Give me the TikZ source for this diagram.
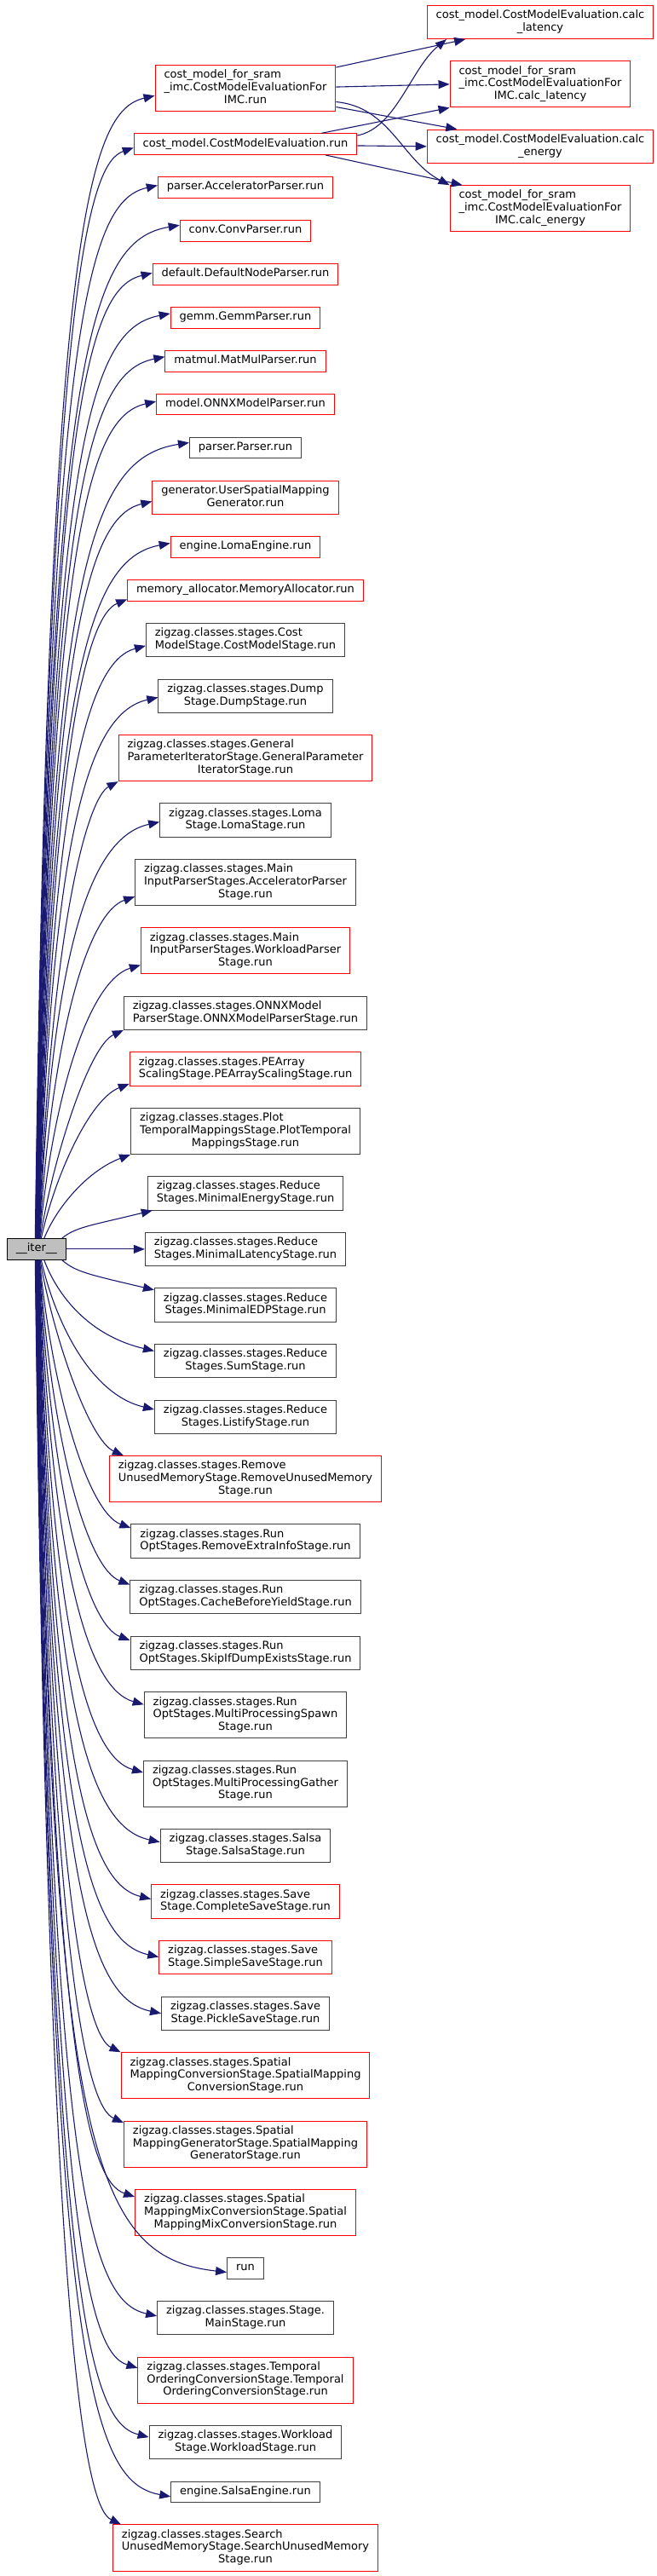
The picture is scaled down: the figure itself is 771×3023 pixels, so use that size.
\documentclass[tikz,border=0pt]{standalone}
\usepackage{fontspec}
\setmainfont{DejaVu Sans}
\usepackage{tikz}
\usetikzlibrary{arrows.meta,calc,positioning}
\definecolor{edgeCol}{HTML}{191970}
\definecolor{fnEdge}{HTML}{404040}
\definecolor{fnTrunc}{HTML}{FF0000}
\definecolor{rootCol}{HTML}{BFBFBF}
\newcommand{\fnfont}{\fontsize{13pt}{14.7pt}\selectfont}
\newcommand{\lone}[1]{\begin{tabular}{@{}c@{}}#1\end{tabular}}
\newcommand{\ltwo}[2]{\begin{tabular}{@{}l@{}}#1\\\multicolumn{1}{@{}c@{}}{#2}\end{tabular}}
\newcommand{\lthree}[3]{\begin{tabular}{@{}l@{}}#1\\#2\\\multicolumn{1}{@{}c@{}}{#3}\end{tabular}}
\tikzset{
  fn/.style={draw=fnEdge, fill=white, line width=1pt, inner xsep=10.5pt, inner ysep=5pt, font=\fnfont},
  fntrunc/.style={fn, draw=fnTrunc},
  fnroot/.style={fn, draw=black, fill=rootCol},
  call/.style={-{Triangle[length=13pt,width=10pt]}, draw=edgeCol, line width=1.1pt},
}
% call from __iter__ to a function drawn above / below it
\newcommand{\callup}[2]{%
  \draw[call] let \p1=([xshift=#1]iter.north), \p2=(#2), \n1={min(150pt,0.6*(\y2-\y1))} in
    (\p1) .. controls ({\x1+16pt},{\y2-\n1*1pt}) and (105pt,{\y2-18pt}) .. (\p2);}
\newcommand{\calldown}[2]{%
  \draw[call] let \p1=([xshift=#1]iter.south), \p2=(#2), \n1={min(150pt,0.6*(\y1-\y2))} in
    (\p1) .. controls ({\x1+16pt},{\y2+\n1*1pt}) and (105pt,{\y2+18pt}) .. (\p2);}

\begin{document}
\begin{tikzpicture}[node distance=25.2pt]
  \path[fill=white, use as bounding box] (0,0) rectangle (771pt,-3023pt);
  % callees of __iter__
  \node[fntrunc, anchor=north] (imcRun) at (288pt,-76pt) {\lthree{cost\_model\_for\_sram}{\_imc.CostModelEvaluationFor}{IMC.run}};
  \node[fntrunc, below=of imcRun] (cmeRun) {\lone{cost\_model.CostModelEvaluation.run}};
  \node[fntrunc, below=of cmeRun] (accParser) {\lone{parser.AcceleratorParser.run}};
  \node[fntrunc, below=of accParser] (convParser) {\lone{conv.ConvParser.run}};
  \node[fntrunc, below=of convParser] (defaultParser) {\lone{default.DefaultNodeParser.run}};
  \node[fntrunc, below=of defaultParser] (gemmParser) {\lone{gemm.GemmParser.run}};
  \node[fntrunc, below=of gemmParser] (matmulParser) {\lone{matmul.MatMulParser.run}};
  \node[fntrunc, below=of matmulParser] (onnxParser) {\lone{model.ONNXModelParser.run}};
  \node[fn, below=of onnxParser] (baseParser) {\lone{parser.Parser.run}};
  \node[fntrunc, below=of baseParser] (userGen) {\ltwo{generator.UserSpatialMapping}{Generator.run}};
  \node[fntrunc, below=of userGen] (lomaEngine) {\lone{engine.LomaEngine.run}};
  \node[fntrunc, below=of lomaEngine] (memAlloc) {\lone{memory\_allocator.MemoryAllocator.run}};
  \node[fn, below=of memAlloc] (costStage) {\ltwo{zigzag.classes.stages.Cost}{ModelStage.CostModelStage.run}};
  \node[fn, below=of costStage] (dumpStage) {\ltwo{zigzag.classes.stages.Dump}{Stage.DumpStage.run}};
  \node[fntrunc, below=of dumpStage] (genParam) {\lthree{zigzag.classes.stages.General}{ParameterIteratorStage.GeneralParameter}{IteratorStage.run}};
  \node[fn, below=of genParam] (lomaStage) {\ltwo{zigzag.classes.stages.Loma}{Stage.LomaStage.run}};
  \node[fn, below=of lomaStage] (mainAcc) {\lthree{zigzag.classes.stages.Main}{InputParserStages.AcceleratorParser}{Stage.run}};
  \node[fntrunc, below=of mainAcc] (mainWl) {\lthree{zigzag.classes.stages.Main}{InputParserStages.WorkloadParser}{Stage.run}};
  \node[fn, below=of mainWl] (onnxStage) {\ltwo{zigzag.classes.stages.ONNXModel}{ParserStage.ONNXModelParserStage.run}};
  \node[fntrunc, below=of onnxStage] (peArray) {\ltwo{zigzag.classes.stages.PEArray}{ScalingStage.PEArrayScalingStage.run}};
  \node[fn, below=of peArray] (plotStage) {\lthree{zigzag.classes.stages.Plot}{TemporalMappingsStage.PlotTemporal}{MappingsStage.run}};
  \node[fn, below=of plotStage] (minEnergy) {\ltwo{zigzag.classes.stages.Reduce}{Stages.MinimalEnergyStage.run}};
  \node[fn, below=of minEnergy] (minLat) {\ltwo{zigzag.classes.stages.Reduce}{Stages.MinimalLatencyStage.run}};
  \node[fn, below=of minLat] (minEdp) {\ltwo{zigzag.classes.stages.Reduce}{Stages.MinimalEDPStage.run}};
  \node[fn, below=of minEdp] (sumStage) {\ltwo{zigzag.classes.stages.Reduce}{Stages.SumStage.run}};
  \node[fn, below=of sumStage] (listify) {\ltwo{zigzag.classes.stages.Reduce}{Stages.ListifyStage.run}};
  \node[fntrunc, below=of listify] (rmUnused) {\lthree{zigzag.classes.stages.Remove}{UnusedMemoryStage.RemoveUnusedMemory}{Stage.run}};
  \node[fn, below=of rmUnused] (rmExtra) {\ltwo{zigzag.classes.stages.Run}{OptStages.RemoveExtraInfoStage.run}};
  \node[fn, below=of rmExtra] (cacheYield) {\ltwo{zigzag.classes.stages.Run}{OptStages.CacheBeforeYieldStage.run}};
  \node[fn, below=of cacheYield] (skipDump) {\ltwo{zigzag.classes.stages.Run}{OptStages.SkipIfDumpExistsStage.run}};
  \node[fn, below=of skipDump] (mpSpawn) {\lthree{zigzag.classes.stages.Run}{OptStages.MultiProcessingSpawn}{Stage.run}};
  \node[fn, below=of mpSpawn] (mpGather) {\lthree{zigzag.classes.stages.Run}{OptStages.MultiProcessingGather}{Stage.run}};
  \node[fn, below=of mpGather] (salsaStage) {\ltwo{zigzag.classes.stages.Salsa}{Stage.SalsaStage.run}};
  \node[fntrunc, below=of salsaStage] (completeSave) {\ltwo{zigzag.classes.stages.Save}{Stage.CompleteSaveStage.run}};
  \node[fntrunc, below=of completeSave] (simpleSave) {\ltwo{zigzag.classes.stages.Save}{Stage.SimpleSaveStage.run}};
  \node[fn, below=of simpleSave] (pickleSave) {\ltwo{zigzag.classes.stages.Save}{Stage.PickleSaveStage.run}};
  \node[fntrunc, below=of pickleSave] (spConv) {\lthree{zigzag.classes.stages.Spatial}{MappingConversionStage.SpatialMapping}{ConversionStage.run}};
  \node[fntrunc, below=of spConv] (spGen) {\lthree{zigzag.classes.stages.Spatial}{MappingGeneratorStage.SpatialMapping}{GeneratorStage.run}};
  \node[fntrunc, below=of spGen] (spMix) {\lthree{zigzag.classes.stages.Spatial}{MappingMixConversionStage.Spatial}{MappingMixConversionStage.run}};
  \node[fn, below=of spMix] (runFn) {\lone{run}};
  \node[fn, below=of runFn] (mainStage) {\ltwo{zigzag.classes.stages.Stage.}{MainStage.run}};
  \node[fntrunc, below=of mainStage] (tempOrder) {\lthree{zigzag.classes.stages.Temporal}{OrderingConversionStage.Temporal}{OrderingConversionStage.run}};
  \node[fn, below=of tempOrder] (workloadStage) {\ltwo{zigzag.classes.stages.Workload}{Stage.WorkloadStage.run}};
  \node[fn, below=of workloadStage] (salsaEngine) {\lone{engine.SalsaEngine.run}};
  \node[fntrunc, below=of salsaEngine] (searchUnused) {\lthree{zigzag.classes.stages.Search}{UnusedMemoryStage.SearchUnusedMemory}{Stage.run}};
  % second level callees
  \node[fntrunc, anchor=north] (cmeLat) at (634pt,-5.7pt) {\ltwo{cost\_model.CostModelEvaluation.calc}{\_latency}};
  \node[fntrunc, below=of cmeLat] (imcLat) {\lthree{cost\_model\_for\_sram}{\_imc.CostModelEvaluationFor}{IMC.calc\_latency}};
  \node[fntrunc, below=of imcLat] (cmeEn) {\ltwo{cost\_model.CostModelEvaluation.calc}{\_energy}};
  \node[fntrunc, below=of cmeEn] (imcEn) {\lthree{cost\_model\_for\_sram}{\_imc.CostModelEvaluationFor}{IMC.calc\_energy}};
  % root
  \node[fnroot, left=92pt of minLat] (iter) {\lone{\_\_iter\_\_}};
  % edges
  \callup{-1.5pt}{[yshift=-8.7pt]imcRun.west}
  \callup{-1.2pt}{[yshift=-4.2pt]cmeRun.west}
  \callup{-0.9pt}{[yshift=2.5pt]accParser.west}
  \callup{-0.6pt}{[yshift=6.7pt]convParser.west}
  \callup{-0.3pt}{[yshift=1.5pt]defaultParser.west}
  \callup{0pt}{[yshift=4.8pt]gemmParser.west}
  \callup{0.3pt}{[yshift=5pt]matmulParser.west}
  \callup{0.6pt}{[yshift=3.5pt]onnxParser.west}
  \callup{0.9pt}{[yshift=6pt]baseParser.west}
  \callup{1.2pt}{[yshift=-4.7pt]userGen.west}
  \callup{1.5pt}{[yshift=4.5pt]lomaEngine.west}
  \callup{1.8pt}{[yshift=-10.5pt]memAlloc.west}
  \callup{2.1pt}{[yshift=-6.7pt]costStage.west}
  \callup{2.4pt}{[yshift=-1.7pt]dumpStage.west}
  \callup{2.7pt}{genParam.south west}
  \callup{3pt}{[yshift=-2pt]lomaStage.west}
  \callup{3.3pt}{[yshift=-16.7pt]mainAcc.west}
  \callup{3.6pt}{[yshift=-16.7pt]mainWl.west}
  \callup{4.2pt}{onnxStage.south west}
  \callup{5.5pt}{[yshift=-17.5pt]peArray.west}
  \callup{9pt}{plotStage.south west}
  \callup{30pt}{[xshift=6pt]minEnergy.south west}
  \draw[call] (iter) -- (minLat);
  \calldown{30pt}{[yshift=17.7pt]minEdp.west}
  \calldown{9pt}{[yshift=11.7pt]sumStage.west}
  \calldown{5.5pt}{[yshift=8.7pt]listify.west}
  \calldown{4.2pt}{[xshift=17pt]rmUnused.north west}
  \calldown{3.6pt}{[yshift=15.5pt]rmExtra.west}
  \calldown{3.3pt}{[yshift=14.7pt]cacheYield.west}
  \calldown{3pt}{[yshift=14.8pt]skipDump.west}
  \calldown{2.7pt}{[yshift=12.5pt]mpSpawn.west}
  \calldown{2.4pt}{[yshift=13pt]mpGather.west}
  \calldown{2.1pt}{[yshift=4.3pt]salsaStage.west}
  \calldown{1.8pt}{[yshift=3pt]completeSave.west}
  \calldown{1.5pt}{[yshift=0.7pt]simpleSave.west}
  \calldown{1.2pt}{pickleSave.west}
  \calldown{0.9pt}{spConv.north west}
  \calldown{0.6pt}{[yshift=25pt]spGen.west}
  \calldown{0.3pt}{[yshift=18.3pt]spMix.west}
  \calldown{0pt}{[yshift=-4.5pt]runFn.west}
  \calldown{-0.3pt}{[yshift=2.3pt]mainStage.west}
  \calldown{-0.6pt}{[yshift=14.2pt]tempOrder.west}
  \calldown{-0.9pt}{[yshift=6pt]workloadStage.west}
  \calldown{-1.2pt}{[yshift=-5.5pt]salsaEngine.west}
  \calldown{-1.5pt}{[xshift=10pt]searchUnused.north west}
  \draw[call] ([yshift=-3pt]imcRun.north east) -- ([xshift=45.4pt]cmeLat.south west);
  \draw[call] ([yshift=1.5pt]imcRun.east) -- (imcLat.west);
  \draw[call] ([yshift=-22pt]imcRun.east) -- ([xshift=35.6pt]cmeEn.north west);
  \draw[call] ([yshift=-16pt]imcRun.east) .. controls +(64pt,-6pt) and +(-56pt,29pt) .. (imcEn.north west);
  \draw[call] ([yshift=10.2pt]cmeRun.east) .. controls +(45pt,8pt) and +(-41.5pt,-34pt) .. ([xshift=23.2pt]cmeLat.south west);
  \draw[call] ([xshift=-42pt]cmeRun.north east) -- (imcLat.south west);
  \draw[call] ([yshift=-1.8pt]cmeRun.east) -- (cmeEn.west);
  \draw[call] ([xshift=-37pt]cmeRun.south east) -- ([xshift=15pt]imcEn.north west);
\end{tikzpicture}
\end{document}
